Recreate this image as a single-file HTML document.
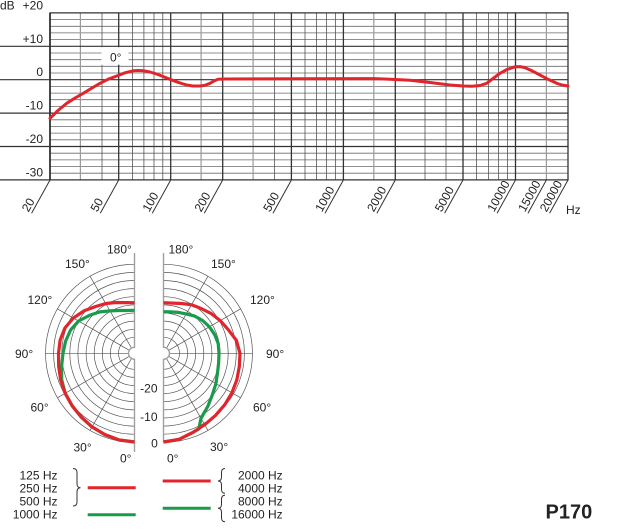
<!DOCTYPE html>
<html><head><meta charset="utf-8"><style>
html,body{margin:0;padding:0;background:#fff;}
body{width:619px;height:530px;overflow:hidden;position:relative;}
svg{position:absolute;left:0;top:0;}
text{font-family:"Liberation Sans",Arial,sans-serif;font-size:12px;fill:#231f20;}
</style></head><body>
<svg width="619" height="530" viewBox="0 0 619 530" xmlns="http://www.w3.org/2000/svg">
<!-- minor horizontal grid -->
<g stroke="#6a6a6a" stroke-width="0.8">
<line x1="50" x2="568" y1="19.6" y2="19.6"/><line x1="50" x2="568" y1="26.3" y2="26.3"/><line x1="50" x2="568" y1="32.9" y2="32.9"/><line x1="50" x2="568" y1="39.6" y2="39.6"/>
<line x1="50" x2="568" y1="53.0" y2="53.0"/><line x1="50" x2="568" y1="59.7" y2="59.7"/><line x1="50" x2="568" y1="66.3" y2="66.3"/><line x1="50" x2="568" y1="73.0" y2="73.0"/>
<line x1="50" x2="568" y1="86.4" y2="86.4"/><line x1="50" x2="568" y1="93.1" y2="93.1"/><line x1="50" x2="568" y1="99.7" y2="99.7"/><line x1="50" x2="568" y1="106.4" y2="106.4"/>
<line x1="50" x2="568" y1="119.8" y2="119.8"/><line x1="50" x2="568" y1="126.5" y2="126.5"/><line x1="50" x2="568" y1="133.1" y2="133.1"/><line x1="50" x2="568" y1="139.8" y2="139.8"/>
<line x1="50" x2="568" y1="153.2" y2="153.2"/><line x1="50" x2="568" y1="159.9" y2="159.9"/><line x1="50" x2="568" y1="166.5" y2="166.5"/><line x1="50" x2="568" y1="173.2" y2="173.2"/>
</g>
<!-- vertical grid -->
<g stroke="#9a9a9a" stroke-width="1.2">
<line x1="80.4" x2="80.4" y1="13" y2="180"/><line x1="201.1" x2="201.1" y1="13" y2="180"/><line x1="253.1" x2="253.1" y1="13" y2="180"/><line x1="373.8" x2="373.8" y1="13" y2="180"/><line x1="546.4" x2="546.4" y1="13" y2="180"/>
</g>
<g stroke="#555" stroke-width="0.8">
<line x1="102" x2="102" y1="13" y2="180"/><line x1="132.4" x2="132.4" y1="13" y2="180"/><line x1="143.9" x2="143.9" y1="13" y2="180"/><line x1="154" x2="154" y1="13" y2="180"/><line x1="162.8" x2="162.8" y1="13" y2="180"/>
<line x1="274.6" x2="274.6" y1="13" y2="180"/><line x1="305" x2="305" y1="13" y2="180"/><line x1="316.6" x2="316.6" y1="13" y2="180"/><line x1="326.6" x2="326.6" y1="13" y2="180"/><line x1="335.5" x2="335.5" y1="13" y2="180"/>
<line x1="425" x2="425" y1="13" y2="180"/><line x1="446" x2="446" y1="13" y2="180"/><line x1="476.5" x2="476.5" y1="13" y2="180"/><line x1="488.5" x2="488.5" y1="13" y2="180"/><line x1="498.5" x2="498.5" y1="13" y2="180"/><line x1="507.5" x2="507.5" y1="13" y2="180"/>
</g>
<g stroke="#333" stroke-width="1.3">
<line x1="118.7" x2="118.7" y1="13" y2="180"/><line x1="170.7" x2="170.7" y1="13" y2="180"/><line x1="222.7" x2="222.7" y1="13" y2="180"/><line x1="291.4" x2="291.4" y1="13" y2="180"/><line x1="343.4" x2="343.4" y1="13" y2="180"/><line x1="395.3" x2="395.3" y1="13" y2="180"/><line x1="463" x2="463" y1="13" y2="180"/><line x1="515.5" x2="515.5" y1="13" y2="180"/><line x1="568" x2="568" y1="13" y2="180"/>
</g>
<line x1="50" x2="50" y1="12.5" y2="180.5" stroke="#333" stroke-width="1.8"/>
<!-- major horizontals -->
<g stroke="#333" stroke-width="1.2">
<line x1="50" x2="568.6" y1="12.9" y2="12.9"/>
<line x1="0" x2="568.6" y1="46.3" y2="46.3"/>
<line x1="0" x2="568.6" y1="79.7" y2="79.7"/>
<line x1="0" x2="568.6" y1="113.1" y2="113.1"/>
<line x1="0" x2="568.6" y1="146.5" y2="146.5"/>
<line x1="0" x2="568.6" y1="179.9" y2="179.9"/>
</g>
<!-- 0° label box -->
<rect x="101.5" y="47.2" width="27" height="17.5" fill="#fff"/>
<text x="110" y="61.5">0°</text>
<!-- dB labels -->
<text x="0" y="9.4">dB</text>
<g text-anchor="end">
<text x="43" y="9.4">+20</text>
<text x="43" y="42.8">+10</text>
<text x="43" y="76.2">0</text>
<text x="43" y="109.6">-10</text>
<text x="43" y="143">-20</text>
<text x="43" y="176.4">-30</text>
</g>
<!-- frequency response -->
<polyline fill="none" stroke="#e0262c" stroke-width="3" stroke-linejoin="round" stroke-linecap="round" points="50,118.3 58,110.5 66.7,103.3 75,98 83.3,93.3 92,88 100,83.3 108,79.3 116.7,76 125,72.8 133.3,70.8 138.3,70.5 143.3,70.7 150,72 156.7,74 163,76.5 170,79.3 178,82.3 186.7,85 193,86 200,86 205,85.3 210,83.3 214,81 218,79.3 225,79 300,78.8 373,78.6 390,79.2 410,80.2 430,82.5 450,85 463.3,86 472,86.2 480,85.5 486.7,83.3 493,78.5 500,73.3 507,69.5 515,66.8 520,66.6 525,67.7 532,70.8 540,75 548,79.3 556.7,83.3 562,85 568,86"/>
<!-- ticks -->
<g stroke="#333" stroke-width="1">
<g transform="translate(50,180) rotate(-61)"><line x1="0" y1="0" x2="-38" y2="0"/><text x="-39" y="-3" stroke="none">20</text></g>
<g transform="translate(118.7,180) rotate(-61)"><line x1="0" y1="0" x2="-38" y2="0"/><text x="-39" y="-3" stroke="none">50</text></g>
<g transform="translate(170.7,180) rotate(-61)"><line x1="0" y1="0" x2="-38" y2="0"/><text x="-39" y="-3" stroke="none">100</text></g>
<g transform="translate(222.7,180) rotate(-61)"><line x1="0" y1="0" x2="-38" y2="0"/><text x="-39" y="-3" stroke="none">200</text></g>
<g transform="translate(291.4,180) rotate(-61)"><line x1="0" y1="0" x2="-38" y2="0"/><text x="-39" y="-3" stroke="none">500</text></g>
<g transform="translate(343.4,180) rotate(-61)"><line x1="0" y1="0" x2="-38" y2="0"/><text x="-39" y="-3" stroke="none">1000</text></g>
<g transform="translate(395.3,180) rotate(-61)"><line x1="0" y1="0" x2="-38" y2="0"/><text x="-39" y="-3" stroke="none">2000</text></g>
<g transform="translate(463,180) rotate(-61)"><line x1="0" y1="0" x2="-38" y2="0"/><text x="-39" y="-3" stroke="none">5000</text></g>
<g transform="translate(515.5,180) rotate(-61)"><line x1="0" y1="0" x2="-38" y2="0"/><text x="-39" y="-3" stroke="none">10000</text></g>
<g transform="translate(546.4,180) rotate(-61)"><line x1="0" y1="0" x2="-38" y2="0"/><text x="-39" y="-3" stroke="none">15000</text></g>
<g transform="translate(568,180) rotate(-61)"><line x1="0" y1="0" x2="-38" y2="0"/><text x="-39" y="-3" stroke="none">20000</text></g>
</g>
<text x="566" y="214">Hz</text>

<!-- polar grid -->
<g fill="none" stroke="#555" stroke-width="0.7">
<path d="M134.5,264.3 A89,89 0 0 0 134.5,442.3 M134.5,272.4 A80.9,80.9 0 0 0 134.5,434.2 M134.5,280.5 A72.8,72.8 0 0 0 134.5,426.1 M134.5,288.6 A64.7,64.7 0 0 0 134.5,418 M134.5,296.7 A56.6,56.6 0 0 0 134.5,409.9 M134.5,304.9 A48.4,48.4 0 0 0 134.5,401.7 M134.5,313 A40.3,40.3 0 0 0 134.5,393.6 M134.5,321.1 A32.2,32.2 0 0 0 134.5,385.5 M134.5,329.2 A24.1,24.1 0 0 0 134.5,377.4 M134.5,337.3 A16,16 0 0 0 134.5,369.3"/>
<path d="M163.5,264.3 A89,89 0 0 1 163.5,442.3 M163.5,272.4 A80.9,80.9 0 0 1 163.5,434.2 M163.5,280.5 A72.8,72.8 0 0 1 163.5,426.1 M163.5,288.6 A64.7,64.7 0 0 1 163.5,418 M163.5,296.7 A56.6,56.6 0 0 1 163.5,409.9 M163.5,304.9 A48.4,48.4 0 0 1 163.5,401.7 M163.5,313 A40.3,40.3 0 0 1 163.5,393.6 M163.5,321.1 A32.2,32.2 0 0 1 163.5,385.5 M163.5,329.2 A24.1,24.1 0 0 1 163.5,377.4 M163.5,337.3 A16,16 0 0 1 163.5,369.3"/>
<path d="M131.5,358.5 L90,430.4 M129.3,356.3 L57.4,397.8 M128.5,353.3 L45.5,353.3 M129.3,350.3 L57.4,308.8 M131.5,348.1 L90,276.2"/>
<path d="M166.5,358.5 L208,430.4 M168.7,356.3 L240.6,397.8 M169.5,353.3 L253,353.3 M168.7,350.3 L240.6,308.8 M166.5,348.1 L208,276.2"/>
</g>
<g fill="none" stroke="#a0a0a0" stroke-width="1.4">
<path d="M134.5,253 L134.5,347.3 A6,6 0 0 0 134.5,359.3 L134.5,452"/>
<path d="M163.5,253 L163.5,347.3 A6,6 0 0 1 163.5,359.3 L163.5,442.5"/>
</g>
<!-- polar curves -->
<g fill="none" stroke-width="3.2" stroke-linejoin="round">
<polyline stroke="#1a9a4b" points="134.5,442 119.2,440 104.9,434.6 92,426.9 81.1,416.9 72.1,405.7 65.2,393.3 61.7,379.8 61.6,366.2 63,353.3 65.6,341.1 70.6,330 78.6,321 89.3,315.4 99.8,311.9 110,310.9 118.9,310.5 126.9,310.5 134.5,310.3"/>
<polyline stroke="#1a9a4b" points="163.5,311.7 170.8,311.9 178.4,312.4 186.25,313.9 194.7,316.1 202.6,320.5 209.4,326.8 214.7,334.7 218.2,343.6 219,353.3 218.6,363 217.5,373 215.9,383.6 212.5,394.4 207.9,406.2 201,418.3 198.8,429 192.4,432.7 178.7,439.5 163.5,442"/>
<polyline stroke="#e0262c" points="134.5,442 119.2,440 104.9,434.6 92,426.9 81.1,416.9 72.1,405.7 65.2,393.3 60.7,380.1 58.7,366.7 58.5,353.3 60.1,340.2 64.9,328 73.4,318 83.9,310.9 95.3,306.6 105.8,303.5 116,302.5 125.5,302.6 134.5,302.7"/>
<polyline stroke="#e0262c" points="163.5,442 178.7,439.5 192.4,432.7 204.75,424.7 215.6,415.3 224.8,404.7 231.9,392.8 236.8,380 239.3,366.7 240,353.3 236.4,340.4 228.3,329.7 220.2,320.6 211,313.4 201.1,308.5 191.5,304.8 181.6,303.5 172.4,303.1 163.5,302.7"/>
</g>
<!-- polar labels -->
<text x="107" y="253.5">180°</text>
<text x="65" y="268">150°</text>
<text x="27.5" y="304">120°</text>
<text x="15" y="358">90°</text>
<text x="30.5" y="411.5">60°</text>
<text x="73.5" y="451.5">30°</text>
<text x="120" y="462.5">0°</text>
<text x="168.5" y="253.5">180°</text>
<text x="211" y="268">150°</text>
<text x="250" y="304">120°</text>
<text x="266" y="358">90°</text>
<text x="253" y="411.5">60°</text>
<text x="210" y="451">30°</text>
<text x="167" y="462.5">0°</text>
<g text-anchor="end">
<text x="157.5" y="392.5">-20</text>
<text x="157.5" y="421">-10</text>
<text x="157.8" y="447.5">0</text>
</g>
<!-- legend -->
<g text-anchor="end">
<text x="57.5" y="479.5">125 Hz</text>
<text x="57.5" y="492.5">250 Hz</text>
<text x="57.5" y="505.5">500 Hz</text>
<text x="57.5" y="518.5">1000 Hz</text>
<text x="282.7" y="479.5">2000 Hz</text>
<text x="282.7" y="492.5">4000 Hz</text>
<text x="282.7" y="505.5">8000 Hz</text>
<text x="282.7" y="518.5">16000 Hz</text>
</g>
<g fill="none" stroke="#333" stroke-width="1">
<path d="M73,468.5 Q77,468.5 77,472.5 L77,483.7 Q77,487.7 80.5,487.7 Q77,487.7 77,491.7 L77,502 Q77,506 73,506"/>
<path d="M225,468.5 Q221.5,468.5 221.5,472.5 L221.5,477 Q221.5,481 218,481 Q221.5,481 221.5,485 L221.5,489.3 Q221.5,493.3 225,493.3"/>
<path d="M225,495.3 Q221.5,495.3 221.5,499.3 L221.5,504.3 Q221.5,508.3 218,508.3 Q221.5,508.3 221.5,512.3 L221.5,517.7 Q221.5,521.7 225,521.7"/>
</g>
<g stroke-width="3">
<line x1="87.7" x2="135.7" y1="487.7" y2="487.7" stroke="#e0262c"/>
<line x1="87.7" x2="135.7" y1="514.7" y2="514.7" stroke="#1a9a4b"/>
<line x1="162.7" x2="210.7" y1="481" y2="481" stroke="#e0262c"/>
<line x1="162.7" x2="210.7" y1="508.3" y2="508.3" stroke="#1a9a4b"/>
</g>
<text x="545.5" y="518.5" style="font-size:20px;font-weight:bold;fill:#222">P170</text>
</svg>
</body></html>
